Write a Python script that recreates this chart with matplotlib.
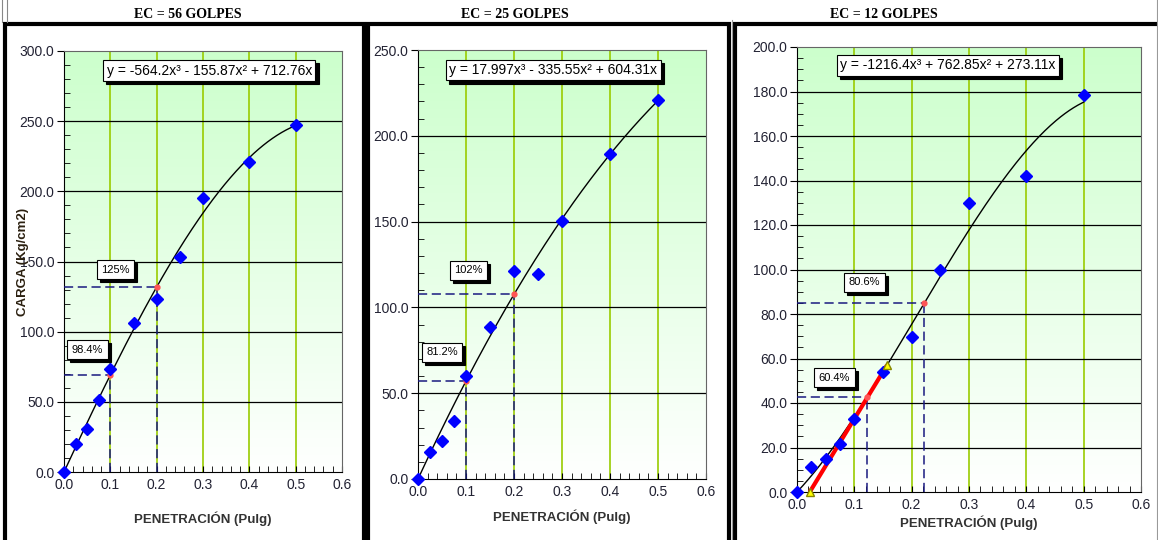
import numpy as np
import matplotlib
matplotlib.use('Agg')
import matplotlib.pyplot as plt
from matplotlib.lines import Line2D
from matplotlib.patches import Shadow
from matplotlib.colors import LinearSegmentedColormap

plt.rcParams['font.family'] = ['Liberation Sans', 'DejaVu Sans']

# ---- data ----
pen = [0.0, 0.025, 0.05, 0.075, 0.1, 0.15, 0.2, 0.25, 0.3, 0.4, 0.5]
carga56 = [0.0, 20.0, 30.5, 51.5, 73.5, 106.0, 123.5, 153.0, 195.0, 221.0, 247.0]
carga25 = [0.0, 15.7, 22.1, 33.8, 60.2, 88.7, 121.3, 119.6, 150.6, 189.6, 221.1]
carga12 = [0.0, 11.2, 15.0, 21.7, 32.8, 53.9, 69.7, 99.6, 130.0, 141.8, 178.3]

# trendline coefficients (x^3, x^2, x, 1) as printed on the chart
coef56 = [-564.2, -155.87, 712.76, 0.0]
coef25 = [17.997, -335.55, 604.31, 0.0]
coef12 = [-1216.4, 762.85, 273.11, 0.0]
eq56 = 'y = -564.2x³ - 155.87x² + 712.76x'
eq25 = 'y = 17.997x³ - 335.55x² + 604.31x'
eq12 = 'y = -1216.4x³ + 762.85x² + 273.11x'

# corrected reading points (penetration, load) and CBR labels
ref_x56 = [0.1, 0.2]
ref_y56 = [69.2, 131.8]
ref_x25 = [0.1, 0.2]
ref_y25 = [57.1, 107.6]
ref_x12 = [0.122, 0.222]
ref_y12 = [42.5, 85.0]
cbr56 = ['98.4%', '125%']
cbr25 = ['81.2%', '102%']
cbr12 = ['60.4%', '80.6%']

# correction tangent (EC = 12)
tan_x = [0.0222, 0.157]
tan_y = [0.0, 57.0]

titles = ['EC = 56 GOLPES', 'EC = 25 GOLPES', 'EC = 12 GOLPES']

W, H = 1158, 540
fig = plt.figure(figsize=(W / 100, H / 100), dpi=100)


def px_rect(l, t, r, b):
    return [l / W, 1 - b / H, (r - l) / W, (b - t) / H]


green = LinearSegmentedColormap.from_list('g', ['#ffffff', '#ccffcc'])
boxed = []


def box_text(ax, x, y, s, fs, pad):
    t = ax.text(x, y, s, fontsize=fs, color='black', zorder=7,
                bbox=dict(boxstyle='square,pad=%s' % pad, fc='white', ec='black', lw=0.8))
    boxed.append(t)


def panel(rect, carga, coef, eq, eqpos, rx, ry, labels, lpos, ymax, ystep, yminor, xlab_pad):
    ax = fig.add_axes(rect)
    ax.set_xlim(0, 0.6)
    ax.set_ylim(0, ymax)
    grad = np.linspace(0, 1, 256).reshape(-1, 1)
    ax.imshow(grad, extent=[0, 0.6, 0, ymax], origin='lower', aspect='auto', cmap=green, zorder=0)
    for xv in [0.1, 0.2, 0.3, 0.4, 0.5]:
        ax.axvline(xv, color='#99cc00', lw=1.2, zorder=1)
    for yv in np.arange(ystep, ymax, ystep):
        ax.axhline(yv, color='black', lw=0.9, zorder=1)
    ax.set_xticks(np.arange(0, 0.61, 0.1))
    ax.set_xticks(np.arange(0, 0.61, 0.02), minor=True)
    ax.set_yticks(np.arange(0, ymax + 0.1, ystep))
    ax.set_yticks(np.arange(0, ymax + 0.1, yminor), minor=True)
    ax.xaxis.set_major_formatter('{x:.1f}')
    ax.yaxis.set_major_formatter('{x:.1f}')
    ax.tick_params(axis='x', which='both', direction='in', length=4, labelsize=10,
                   labelcolor='#222233', pad=4)
    ax.tick_params(axis='y', which='major', direction='out', length=5, labelsize=10,
                   labelcolor='#222233', pad=2)
    ax.tick_params(axis='y', which='minor', direction='in', length=4)
    for s in ax.spines.values():
        s.set_color('#666666')
    ax.spines['left'].set_color('black')
    ax.spines['bottom'].set_color('black')
    ax.set_xlabel('PENETRACIÓN (Pulg)', fontsize=9.5, fontweight='bold', color='#333333',
                  labelpad=xlab_pad)

    xs = np.linspace(0, 0.5, 200)
    ax.plot(xs, np.polyval(coef, xs), color='black', lw=1.0, zorder=3)
    for x0, y0 in zip(rx, ry):
        ax.plot([0, x0], [y0, y0], color='#1a1a80', lw=1.1, ls=(0, (6, 3)), zorder=3)
        ax.plot([x0, x0], [0, y0], color='#1a1a80', lw=1.1, ls=(0, (6, 3)), zorder=3)
        ax.plot(x0, y0, 'o', color='#ff5555', ms=3.5, zorder=5)
    ax.plot(pen, carga, 'D', color='#0000ff', ms=6, zorder=5, clip_on=False)

    box_text(ax, eqpos[0], eqpos[1], eq, 10, 0.25)
    for s, (lx, ly) in zip(labels, lpos):
        box_text(ax, lx, ly, s, 8, 0.4)
    return ax


ax1 = panel(px_rect(64, 51, 342, 472), carga56, coef56, eq56, (0.092, 283),
            ref_x56, ref_y56, cbr56, [(0.017, 85), (0.08, 142)], 300, 50, 10, 14)
ax1.set_ylabel('CARGA (Kg/cm2)', fontsize=9.5, fontweight='bold', color='#2b2010')
ax1.yaxis.set_label_coords(-0.125, 0.5)

ax2 = panel(px_rect(418, 50, 706, 479), carga25, coef25, eq25, (0.065, 236),
            ref_x25, ref_y25, cbr25, [(0.017, 72), (0.075, 120)], 250, 50, 10, 8)

ax3 = panel(px_rect(797, 47, 1141, 492), carga12, coef12, eq12, (0.075, 190),
            ref_x12, ref_y12, cbr12, [(0.038, 50), (0.09, 93)], 200, 20, 5, 3)
ax3.plot(tan_x, tan_y, color='#ff0000', lw=3, zorder=4, solid_capstyle='butt')
ax3.plot(tan_x, tan_y, '^', color='#ffff00', mec='#888800', ms=6, zorder=6, clip_on=False)

# titles
for s, xc in zip(titles, [188, 515, 884]):
    fig.text(xc / W, 1 - 14 / H, s, ha='center', va='center', fontsize=10, fontweight='bold',
             family='Liberation Serif')


# panel frames
def frame(l, t, r, b, lw=3):
    xs = [l / W, l / W, r / W, r / W]
    ys = [1 - b / H, 1 - t / H, 1 - t / H, 1 - b / H]
    fig.add_artist(Line2D(xs, ys, color='black', lw=lw, transform=fig.transFigure,
                          solid_joinstyle='miter'))


frame(5, 23.5, 364, 560)
frame(368, 23.5, 728.5, 560)
frame(735, 23.5, 1170, 560)
for xv in [2, 6.5]:
    fig.add_artist(Line2D([xv / W, xv / W], [1, 1 - 22 / H], color='#888888', lw=0.8,
                          transform=fig.transFigure))
fig.add_artist(Line2D([1157 / W, 1157 / W], [0, 1], color='#999999', lw=0.8,
                      transform=fig.transFigure))
fig.add_artist(Line2D([732 / W, 732 / W], [0, 1 - 20 / H], color='#999999', lw=0.8,
                      transform=fig.transFigure))

# drop shadows behind the boxed labels
fig.canvas.draw()
for t in boxed:
    p = t.get_bbox_patch()
    t.axes.add_artist(Shadow(p, 2.2, -2.2, facecolor='black', edgecolor='black',
                             alpha=1, zorder=6.5))

fig.savefig('out.png', dpi=100)
